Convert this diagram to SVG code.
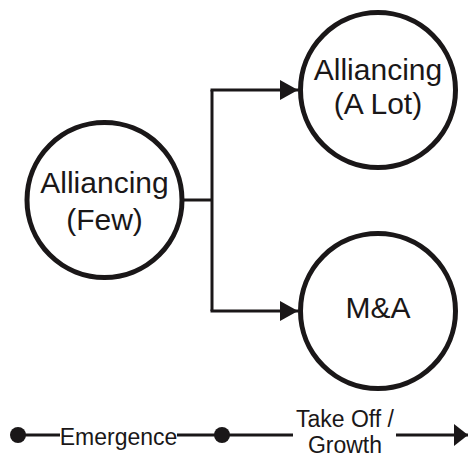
<svg xmlns="http://www.w3.org/2000/svg" width="468" height="457" viewBox="0 0 468 457">
<style>
.node{fill:#fff;stroke:#1a1718;stroke-width:5}
.lbl{font-family:"Liberation Sans",Arial,sans-serif;font-size:30px;fill:#1a1718;text-anchor:middle}
.tl{font-family:"Liberation Sans",Arial,sans-serif;font-size:23px;fill:#1a1718;text-anchor:middle}
.ln{fill:none;stroke:#1a1718;stroke-width:3}
</style>
<defs>
<marker id="ah" markerUnits="userSpaceOnUse" markerWidth="20" markerHeight="22" refX="18" refY="10" orient="auto">
<path d="M0,0 L18,10 L0,20 Z" fill="#1a1718"/>
</marker>
<marker id="ah2" markerUnits="userSpaceOnUse" markerWidth="16" markerHeight="24" refX="14" refY="11" orient="auto">
<path d="M0,0 L14,11 L0,22 Z" fill="#1a1718"/>
</marker>
</defs>
<rect width="468" height="457" fill="#fff"/>
<g id="connectors">
<path class="ln" d="M184,200 H212"/>
<path class="ln" d="M212,90 V311"/>
<path class="ln" d="M210.5,90 H298" marker-end="url(#ah)"/>
<path class="ln" d="M210.5,311 H298" marker-end="url(#ah)"/>
</g>
<g id="node-few">
<circle class="node" cx="104.5" cy="200" r="77.5"/>
<text class="lbl" x="104.5" y="193">Alliancing</text>
<text class="lbl" x="104.5" y="230">(Few)</text>
</g>
<g id="node-alot">
<circle class="node" cx="378" cy="90" r="77.5"/>
<text class="lbl" x="378" y="80">Alliancing</text>
<text class="lbl" x="378" y="114">(A Lot)</text>
</g>
<g id="node-ma">
<circle class="node" cx="378" cy="311" r="77.5"/>
<text class="lbl" x="378" y="318">M&amp;A</text>
</g>
<g id="timeline">
<path class="ln" d="M18,435 H60 M177,435 H293"/>
<path class="ln" d="M396,435 H468" marker-end="url(#ah2)"/>
<circle cx="18" cy="435" r="8" fill="#1a1718"/>
<circle cx="222" cy="435" r="8" fill="#1a1718"/>
<text class="tl" x="118.5" y="445">Emergence</text>
<text class="tl" x="345" y="427">Take Off /</text>
<text class="tl" x="345" y="453">Growth</text>
</g>
</svg>
